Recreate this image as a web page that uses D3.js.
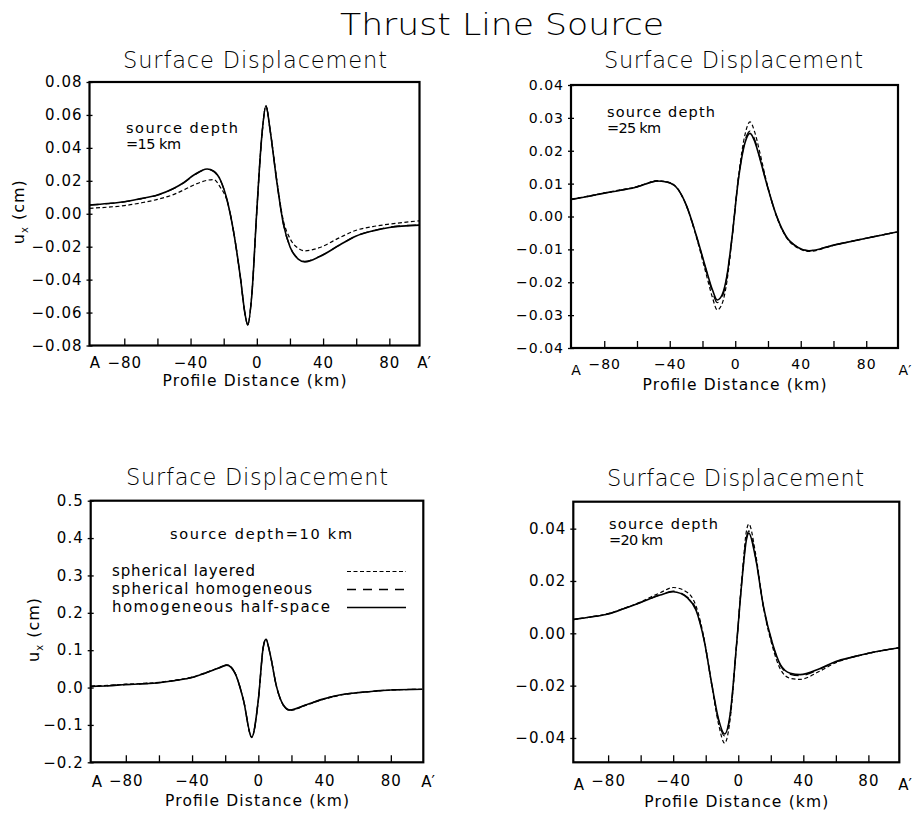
<!DOCTYPE html>
<html><head><meta charset="utf-8">
<script src="https://cdn.jsdelivr.net/npm/d3@7"></script>
<style>
body{margin:0;background:#fff}
text{font-family:'DejaVu Sans','Liberation Sans',sans-serif;fill:#000}
</style>
</head><body>
<svg id="c" width="912" height="813"></svg>
<script>
// ---------------- data ----------------
const mainTitle = "Thrust Line Source";
const panelTitle = "Surface Displacement";
const xAxisTitle = "Profile Distance (km)";
const seriesNames = ["spherical layered", "spherical homogeneous", "homogeneous half-space"];
const xTickValues = [-80, -60, -40, -20, 0, 20, 40, 60, 80];
const xTickLabels = [-80, -40, 0, 40, 80];
const endLabels = ["A", "A\u2032"];

// source depth = 15 km
const d15_x = [-101, -90, -80, -70, -60, -50, -44, -38, -30, -26, -22, -18, -14, -10, -7, -5.5, -3, 0, 3, 5.5, 8, 12, 16, 20, 25, 29, 38, 50, 60, 70, 80, 98];
const d15_layered = [0.0033, 0.0040, 0.0049, 0.0066, 0.0087, 0.0118, 0.0145, 0.0175, 0.0203, 0.0208, 0.0160, 0.0080, -0.011, -0.038, -0.0615, -0.0675, -0.049, 0.002, 0.047, 0.0655, 0.051, 0.021, -0.004, -0.015, -0.021, -0.0225, -0.0205, -0.0145, -0.010, -0.0078, -0.0063, -0.0043];
const d15_homog = [0.0052, 0.0061, 0.0072, 0.0091, 0.0113, 0.0154, 0.0188, 0.0233, 0.0270, 0.0256, 0.0203, 0.0084, -0.011, -0.038, -0.0615, -0.0672, -0.049, 0.002, 0.047, 0.0652, 0.051, 0.020, -0.006, -0.0198, -0.0272, -0.0289, -0.0258, -0.0189, -0.0134, -0.0103, -0.0082, -0.0068];
const d15_half = [0.0053, 0.0062, 0.0073, 0.0092, 0.0114, 0.0155, 0.0190, 0.0235, 0.0272, 0.0258, 0.0205, 0.0085, -0.011, -0.038, -0.0615, -0.0675, -0.049, 0.002, 0.047, 0.0655, 0.051, 0.020, -0.006, -0.020, -0.0275, -0.0292, -0.026, -0.019, -0.0135, -0.0104, -0.0083, -0.0069];
const d15_yTicks = [-0.08, -0.06, -0.04, -0.02, 0, 0.02, 0.04, 0.06, 0.08];

// source depth = 25 km
const d25_x = [-100, -90, -80, -70, -60, -54, -48, -42, -36, -30, -24, -18, -14, -11, -8, -5, -2, 2, 6, 9, 12, 15, 19, 25, 31, 38, 45, 60, 80, 99];
const d25_layered = [0.0053, 0.0062, 0.0072, 0.0081, 0.0091, 0.0101, 0.0109, 0.0106, 0.0090, 0.0035, -0.0058, -0.0170, -0.0245, -0.0284, -0.0265, -0.0195, -0.0068, 0.0122, 0.0250, 0.0288, 0.0255, 0.0195, 0.0108, 0.0004, -0.0062, -0.0095, -0.0106, -0.0088, -0.0066, -0.0047];
const d25_homog = [0.0052, 0.0061, 0.0071, 0.0080, 0.0090, 0.0100, 0.0108, 0.0105, 0.0089, 0.0035, -0.0055, -0.0160, -0.0228, -0.0262, -0.0245, -0.0182, -0.0066, 0.0117, 0.0231, 0.0260, 0.0232, 0.0180, 0.0104, 0.0005, -0.0060, -0.0093, -0.0104, -0.0087, -0.0066, -0.0047];
const d25_half = [0.0052, 0.0061, 0.0071, 0.0080, 0.0090, 0.0100, 0.0108, 0.0105, 0.0089, 0.0036, -0.0054, -0.0157, -0.0222, -0.0254, -0.0238, -0.0178, -0.0065, 0.0115, 0.0225, 0.0253, 0.0227, 0.0177, 0.0103, 0.0005, -0.0060, -0.0093, -0.0104, -0.0087, -0.0066, -0.0047];
const d25_yTicks = [-0.04, -0.03, -0.02, -0.01, 0, 0.01, 0.02, 0.03, 0.04];

// source depth = 10 km
const d10_x = [-101, -90, -80, -70, -60, -50, -40, -30, -24, -19, -14, -9, -4, 0, 3, 4.6, 7, 11, 15, 19, 29, 39, 49, 60, 70, 80, 99];
const d10_layered = [0.004, 0.006, 0.009, 0.011, 0.014, 0.020, 0.028, 0.043, 0.053, 0.061, 0.038, -0.033, -0.134, -0.033, 0.110, 0.130, 0.092, 0.002, -0.047, -0.061, -0.047, -0.032, -0.021, -0.0138, -0.0098, -0.0066, -0.0047];
const d10_homog = [0.003, 0.005, 0.008, 0.010, 0.013, 0.019, 0.027, 0.042, 0.052, 0.060, 0.038, -0.033, -0.132, -0.033, 0.108, 0.128, 0.092, 0.0025, -0.046, -0.060, -0.046, -0.031, -0.020, -0.0136, -0.0096, -0.0064, -0.0045];
const d10_half = [0.003, 0.005, 0.008, 0.010, 0.013, 0.019, 0.027, 0.042, 0.052, 0.060, 0.038, -0.033, -0.133, -0.033, 0.109, 0.129, 0.092, 0.0025, -0.046, -0.060, -0.046, -0.031, -0.020, -0.0136, -0.0096, -0.0064, -0.0045];
const d10_yTicks = [-0.2, -0.1, 0, 0.1, 0.2, 0.3, 0.4, 0.5];

// source depth = 20 km
const d20_x = [-101, -90, -80, -70, -60, -54, -48, -40, -31, -26, -21, -16, -12, -8.4, -5, -1, 2.5, 5, 6.5, 10.5, 15.5, 21, 26, 32, 38, 50, 60, 70, 80, 99];
const d20_layered = [0.0053, 0.0063, 0.0075, 0.0096, 0.0120, 0.0138, 0.0155, 0.0175, 0.0155, 0.0105, -0.0020, -0.0210, -0.0350, -0.0420, -0.0330, -0.0040, 0.0230, 0.0390, 0.0418, 0.0310, 0.0100, -0.0050, -0.0138, -0.0172, -0.0176, -0.0145, -0.0112, -0.0092, -0.0077, -0.0055];
const d20_homog = [0.0053, 0.0063, 0.0074, 0.0095, 0.0118, 0.0133, 0.0147, 0.0161, 0.0137, 0.0092, -0.0025, -0.0205, -0.0336, -0.0392, -0.0314, -0.0040, 0.0219, 0.0364, 0.0391, 0.0296, 0.0101, -0.0040, -0.0124, -0.0157, -0.0162, -0.0137, -0.0109, -0.0091, -0.0076, -0.0055];
const d20_half = [0.0053, 0.0063, 0.0074, 0.0095, 0.0118, 0.0133, 0.0146, 0.0159, 0.0134, 0.0089, -0.0026, -0.0204, -0.0331, -0.0385, -0.0310, -0.0040, 0.0216, 0.0357, 0.0383, 0.0293, 0.0102, -0.0038, -0.0121, -0.0153, -0.0158, -0.0135, -0.0108, -0.0091, -0.0076, -0.0055];
const d20_yTicks = [-0.04, -0.02, 0, 0.02, 0.04];

// ---------------- layout ----------------
const panels = [
  {x: d15_x, ser: [d15_layered, d15_homog, d15_half], yTicks: d15_yTicks, yFmt: ".2f",
   xDomain: [-101, 98.2], yDomain: [-0.08, 0.08], l: 89.5, r: 419.5, t: 82, b: 345.5,
   yLabel: true, yLabelX: 24, tickFont: 15, depth: ["source depth", "=15 km"], depthX: 126, depthY: 133, depthW: [112, 55],
   titleX: 123, titleW: 264, titleY: 68, axTitleY: 386, ends: [95, 424], endDy: 22, xlabDy: 22},
  {x: d25_x, ser: [d25_layered, d25_homog, d25_half], yTicks: d25_yTicks, yFmt: ".2f",
   xDomain: [-100.3, 99.4], yDomain: [-0.04, 0.04], l: 571, r: 898, t: 85, b: 348,
   yLabel: false, tickFont: 14, depth: ["source depth", "=25 km"], depthX: 607, depthY: 117, depthW: [108, 54],
   titleX: 604, titleW: 259, titleY: 68, axTitleY: 390, ends: [576, 905], endDy: 27, xlabDy: 21},
  {x: d10_x, ser: [d10_layered, d10_homog, d10_half], yTicks: d10_yTicks, yFmt: ".1f",
   xDomain: [-101.2, 99.6], yDomain: [-0.2, 0.5], l: 90.7, r: 423.3, t: 500.7, b: 762.3,
   yLabel: true, yLabelX: 39, tickFont: 15, depth: ["source depth=10 km"], depthX: 170, depthY: 539, depthW: [182],
   titleX: 126, titleW: 262, titleY: 485, axTitleY: 806, ends: [97, 428], endDy: 25, xlabDy: 24, legend: true},
  {x: d20_x, ser: [d20_layered, d20_homog, d20_half], yTicks: d20_yTicks, yFmt: ".2f",
   xDomain: [-101.4, 99], yDomain: [-0.0493, 0.0503], l: 573.3, r: 899.3, t: 501.7, b: 762.3,
   yLabel: false, tickFont: 15, depth: ["source depth", "=20 km"], depthX: 609, depthY: 529, depthW: [109, 54],
   titleX: 607, titleW: 257, titleY: 486, axTitleY: 807, ends: [579, 905], endDy: 28, xlabDy: 24}
];

const styles = [
  {w: 1.2, dash: "4,2.5"},
  {w: 1.3, dash: "9,7"},
  {w: 1.6, dash: null}
];

const svg = d3.select("#c");
svg.append("rect").attr("width", 912).attr("height", 813).attr("fill", "#fff");

svg.append("text").attr("x", 340).attr("y", 35).attr("font-size", 30)
  .attr("textLength", 324).attr("lengthAdjust", "spacingAndGlyphs")
  .attr("font-weight", 300).text(mainTitle);

panels.forEach((p, i) => {
  const x = d3.scaleLinear().domain(p.xDomain).range([p.l, p.r]);
  const y = d3.scaleLinear().domain(p.yDomain).range([p.b, p.t]);
  const g = svg.append("g");
  const cid = "clip" + i;
  svg.append("clipPath").attr("id", cid).append("rect")
    .attr("x", p.l).attr("y", p.t).attr("width", p.r - p.l).attr("height", p.b - p.t);

  // title
  g.append("text").attr("x", p.titleX).attr("y", p.titleY).attr("font-size", 22.5)
    .attr("font-weight", 300)
    .attr("textLength", p.titleW).attr("lengthAdjust", "spacing").text(panelTitle);

  // curves
  const line = d3.line().x(d => x(d[0])).y(d => y(d[1])).curve(d3.curveMonotoneX);
  [2, 1, 0].forEach(k => {
    const pts = p.x.map((xv, j) => [xv, p.ser[k][j]]);
    const path = g.append("path").attr("clip-path", `url(#${cid})`)
      .attr("d", line(pts)).attr("fill", "none").attr("stroke", "#000")
      .attr("stroke-width", styles[k].w);
    if (styles[k].dash) path.attr("stroke-dasharray", styles[k].dash);
  });

  // frame
  g.append("rect").attr("x", p.l).attr("y", p.t).attr("width", p.r - p.l).attr("height", p.b - p.t)
    .attr("fill", "none").attr("stroke", "#000").attr("stroke-width", 2.2);

  // y axis
  const yAx = g.append("g").attr("transform", `translate(${p.l},0)`)
    .call(d3.axisLeft(y).tickValues(p.yTicks).tickSizeInner(3).tickSizeOuter(0).tickPadding(4)
      .tickFormat(d3.format(p.yFmt)));
  yAx.select(".domain").remove();
  yAx.selectAll("text").attr("font-size", p.tickFont).attr("letter-spacing", 1)
    .attr("font-family", "'DejaVu Sans',sans-serif");
  yAx.selectAll("line").attr("stroke-width", 1.3);
  const yAx2 = g.append("g").attr("transform", `translate(${p.l},0)`)
    .call(d3.axisRight(y).tickValues(p.yTicks).tickSizeInner(3).tickSizeOuter(0).tickFormat(""));
  yAx2.select(".domain").remove();
  yAx2.selectAll("line").attr("stroke-width", 1.3);

  // x axis ticks (inward)
  const xAx = g.append("g").attr("transform", `translate(0,${p.b})`)
    .call(d3.axisTop(x).tickValues(xTickValues).tickSizeInner(7).tickSizeOuter(0).tickFormat(""));
  xAx.select(".domain").remove();
  xAx.selectAll("line").attr("stroke-width", 1.3);
  // x labels
  const xLab = g.append("g").attr("transform", `translate(0,${p.b})`)
    .call(d3.axisBottom(x).tickValues(xTickLabels).tickSize(0).tickPadding(0).tickFormat(d3.format("d")));
  xLab.select(".domain").remove();
  xLab.selectAll("text").attr("font-size", p.tickFont).attr("dy", null).attr("y", p.xlabDy)
    .attr("letter-spacing", 1).attr("font-family", "'DejaVu Sans',sans-serif");
  // end labels
  g.append("text").attr("x", p.ends[0]).attr("y", p.b + p.endDy).attr("text-anchor", "middle")
    .attr("font-size", p.tickFont).text(endLabels[0]);
  g.append("text").attr("x", p.ends[1]).attr("y", p.b + p.endDy).attr("text-anchor", "middle")
    .attr("font-size", p.tickFont).text(endLabels[1]);

  // axis title
  g.append("text").attr("x", (p.l + p.r) / 2 - 92).attr("y", p.axTitleY)
    .attr("font-size", 15.5).attr("textLength", 184).attr("lengthAdjust", "spacing").text(xAxisTitle);

  // y label
  if (p.yLabel) {
    const cy = (p.t + p.b) / 2 - 2;
    const t = g.append("text").attr("transform", `translate(${p.yLabelX},${cy}) rotate(-90)`)
      .attr("text-anchor", "middle").attr("font-size", 16).attr("letter-spacing", 1);
    t.append("tspan").text("u");
    t.append("tspan").attr("font-size", 10).attr("dy", 4).text("x");
    t.append("tspan").attr("dy", -4).text(" (cm)");
  }

  // depth annotation
  p.depth.forEach((s, j) => {
    g.append("text").attr("x", p.depthX).attr("y", p.depthY + j * 16).attr("font-size", 14.5)
      .attr("textLength", p.depthW[j]).attr("lengthAdjust", "spacing").text(s);
  });

  if (p.legend) {
    const lx = 112, ys = [576, 594, 612], lw = [143, 200, 218];
    seriesNames.forEach((s, k) => {
      g.append("text").attr("x", lx).attr("y", ys[k]).attr("font-size", 15)
        .attr("textLength", lw[k]).attr("lengthAdjust", "spacing").text(s);
      const ln = g.append("line").attr("x1", 347).attr("x2", 406)
        .attr("y1", ys[k] - 4.5).attr("y2", ys[k] - 4.5)
        .attr("stroke", "#000").attr("stroke-width", styles[k].w);
      if (styles[k].dash) ln.attr("stroke-dasharray", styles[k].dash);
    });
  }
});
</script>
</body></html>
